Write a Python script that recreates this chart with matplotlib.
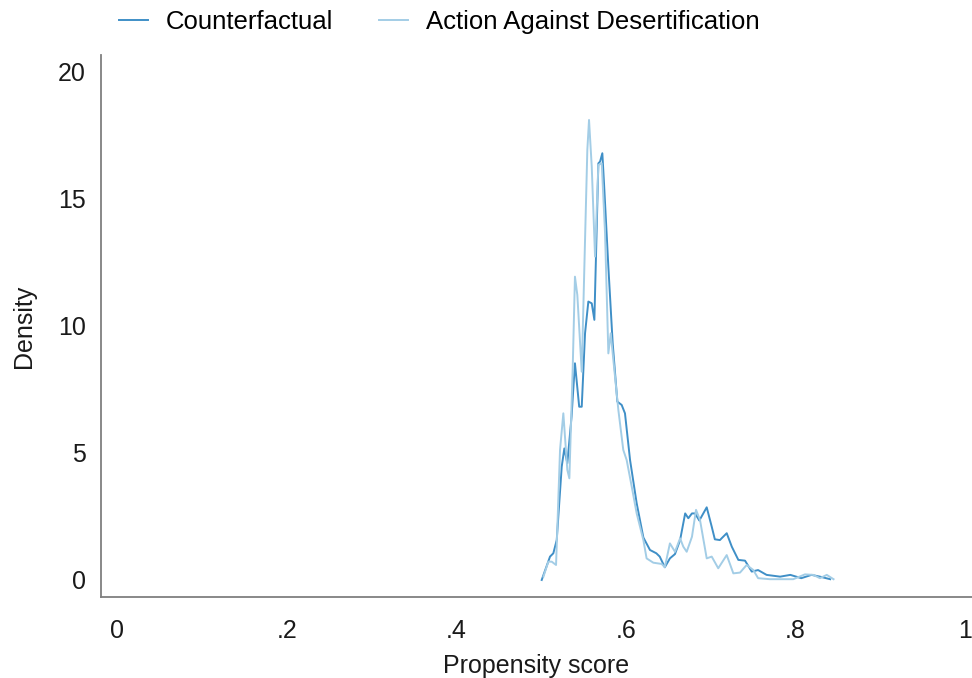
import matplotlib.pyplot as plt

plt.rcParams['font.family'] = ['Liberation Sans', 'DejaVu Sans']

# propensity score densities
cf_x = [0.5008, 0.5106, 0.5145, 0.5185, 0.5244, 0.5275, 0.531, 0.536, 0.540, 0.545,
        0.548, 0.5519, 0.5558, 0.5598, 0.5629, 0.5676, 0.5696, 0.5723, 0.5743, 0.5794,
        0.5845, 0.590, 0.5951, 0.599, 0.605, 0.6128, 0.6207, 0.6285, 0.636, 0.640,
        0.646, 0.652, 0.658, 0.664, 0.670, 0.6737, 0.678, 0.6816, 0.6867, 0.6954,
        0.7013, 0.705, 0.711, 0.713, 0.719, 0.725, 0.7327, 0.7406, 0.7485, 0.756,
        0.766, 0.782, 0.794, 0.807, 0.819, 0.829, 0.841]
cf_y = [0.0, 0.92, 1.05, 1.57, 4.46, 5.18, 4.59, 6.43, 8.53, 6.82,
        6.82, 9.71, 10.96, 10.89, 10.24, 16.4, 16.47, 16.8, 15.6, 12.33,
        9.32, 7.02, 6.89, 6.56, 4.72, 3.02, 1.67, 1.18, 1.05, 0.92,
        0.5, 0.85, 1.02, 1.57, 2.62, 2.43, 2.62, 2.62, 2.34, 2.86,
        2.1, 1.6, 1.57, 1.64, 1.84, 1.31, 0.79, 0.76, 0.33, 0.39,
        0.2, 0.13, 0.2, 0.07, 0.2, 0.13, 0.03]

ad_x = [0.5028, 0.5086, 0.5126, 0.5177, 0.5224, 0.5263, 0.531, 0.5334, 0.5374, 0.540,
        0.5428, 0.548, 0.5519, 0.5546, 0.5566, 0.5598, 0.5637, 0.5676, 0.5716, 0.5755,
        0.5794, 0.5822, 0.5853, 0.5912, 0.597, 0.601, 0.607, 0.6128, 0.6207, 0.6245,
        0.6324, 0.6423, 0.646, 0.652, 0.658, 0.664, 0.6678, 0.6718, 0.678, 0.6828,
        0.6875, 0.6954, 0.7013, 0.709, 0.719, 0.7268, 0.7347, 0.7425, 0.7504, 0.756,
        0.770, 0.7975, 0.8113, 0.821, 0.829, 0.837, 0.845]
ad_y = [0.13, 0.72, 0.72, 0.59, 5.12, 6.56, 4.33, 4.0, 8.4, 11.94,
        11.22, 8.2, 13.39, 16.93, 18.11, 16.27, 12.73, 16.34, 16.4, 13.65,
        8.92, 9.71, 8.66, 6.69, 5.12, 4.72, 3.67, 2.62, 1.57, 0.85,
        0.68, 0.63, 0.5, 1.44, 1.11, 1.64, 1.31, 1.11, 1.7, 2.76,
        2.36, 0.85, 0.92, 0.46, 0.98, 0.26, 0.29, 0.59, 0.39, 0.07,
        0.03, 0.03, 0.22, 0.2, 0.07, 0.2, 0.03]

x_ticks = [0, 0.2, 0.4, 0.6, 0.8, 1.0]
x_labels = ['0', '.2', '.4', '.6', '.8', '1']
y_ticks = [0, 5, 10, 15, 20]

fig = plt.figure(figsize=(9.72, 6.78), dpi=100)
ax = fig.add_axes([0.104, 0.1195, 0.896, 0.7995])

ax.plot(cf_x, cf_y, color='#3f8fc7', lw=1.4, label='Counterfactual')
ax.plot(ad_x, ad_y, color='#a3cde6', lw=1.4, label='Action Against Desertification')

ax.set_xlim(-0.0189, 1.0083)
ax.set_ylim(-0.67, 20.67)
ax.set_xticks(x_ticks)
ax.set_xticklabels(x_labels)
ax.set_yticks(y_ticks)
ax.tick_params(length=0, labelsize=18, colors='#1a1a1a')
ax.tick_params(axis='x', pad=16)
ax.tick_params(axis='y', pad=11)

for side in ['top', 'right']:
    ax.spines[side].set_visible(False)
for side in ['left', 'bottom']:
    ax.spines[side].set_color('#7f7f7f')
    ax.spines[side].set_linewidth(1.3)

ax.set_xlabel('Propensity score', fontsize=18, color='#1a1a1a', labelpad=8)
ax.set_ylabel('Density', fontsize=18, color='#1a1a1a', labelpad=16)

fig.legend(loc='center', bbox_to_anchor=(0.452, 0.967), ncol=2, frameon=False,
           fontsize=18.5, handlelength=1.1, handletextpad=0.7, columnspacing=1.8)

fig.savefig('out.png', dpi=100)
